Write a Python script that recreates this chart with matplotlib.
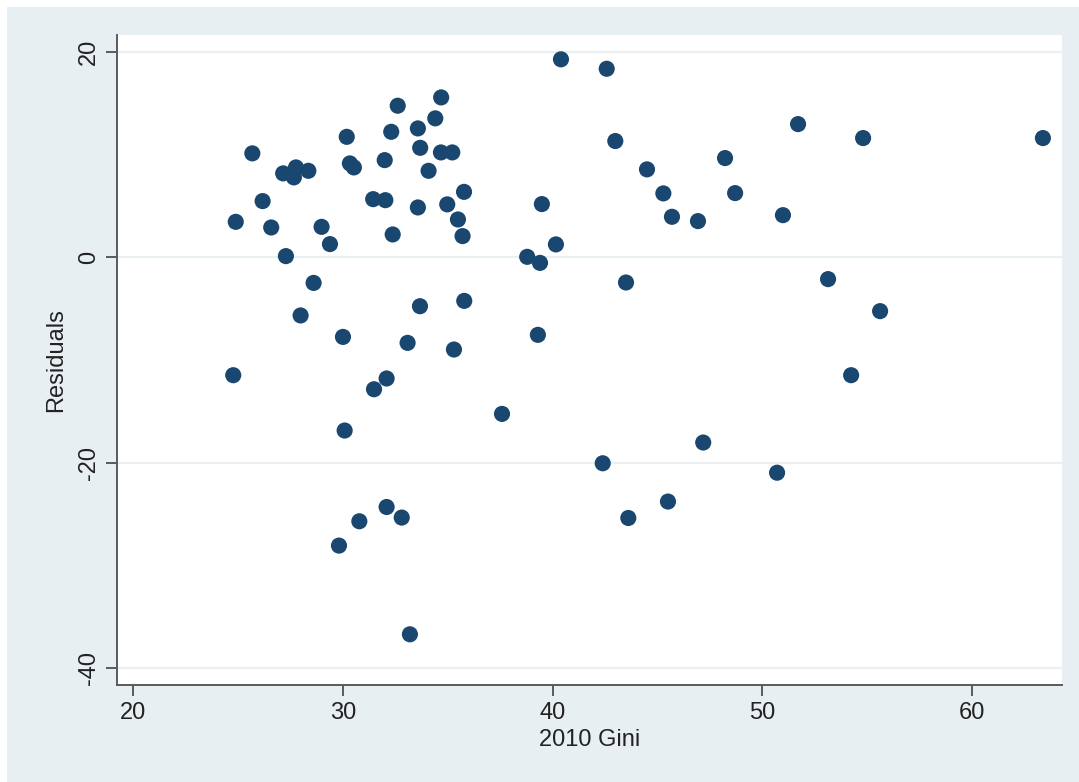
import matplotlib
matplotlib.use("Agg")
import matplotlib.pyplot as plt
from matplotlib.patches import Rectangle

# 2010 Gini coefficient and regression residual, one entry per country
gini = [25.69, 27.16, 27.77, 27.67, 28.36, 26.18, 24.90, 26.59, 28.99, 29.39,
        27.29, 30.19, 30.34, 30.53, 32.62, 34.69, 34.41, 32.31, 33.58, 33.69,
        34.68, 35.22, 32.00, 34.09, 31.45, 32.03, 35.78, 33.58, 34.98, 35.49,
        35.71, 32.38, 28.61, 27.99, 30.01, 33.68, 35.79, 33.09, 35.30, 24.78,
        32.09, 31.49, 30.09, 32.09, 32.81, 30.79, 29.82, 33.20, 40.40, 42.58,
        42.99, 44.50, 45.28, 45.69, 39.49, 40.16, 38.79, 39.40, 43.50, 39.30,
        37.59, 47.18, 42.39, 45.50, 43.61, 46.93, 48.22, 48.70, 50.70, 50.98,
        51.70, 53.13, 54.23, 54.80, 55.61, 63.37]
resid = [10.13, 8.18, 8.76, 7.79, 8.43, 5.48, 3.46, 2.91, 2.97, 1.29,
         0.12, 11.74, 9.15, 8.76, 14.77, 15.58, 13.54, 12.23, 12.56, 10.67,
         10.22, 10.22, 9.47, 8.43, 5.67, 5.57, 6.38, 4.86, 5.16, 3.69,
         2.07, 2.23, -2.49, -5.66, -7.75, -4.76, -4.24, -8.33, -8.98, -11.48,
         -11.80, -12.85, -16.87, -24.32, -25.35, -25.71, -28.08, -36.72, 19.29, 18.37,
         11.33, 8.57, 6.23, 3.95, 5.19, 1.26, 0.05, -0.54, -2.45, -7.55,
         -15.25, -18.04, -20.06, -23.79, -25.39, 3.53, 9.67, 6.26, -20.98, 4.11,
         12.98, -2.12, -11.48, 11.62, -5.24, 11.62]

xticks = [20, 30, 40, 50, 60]
yticks = [-40, -20, 0, 20]

plt.rcParams['font.family'] = ['Liberation Sans', 'DejaVu Sans']

BG = '#E8EFF2'
NAVY = '#1A476F'
W, H = 1079, 782

fig = plt.figure(figsize=(W / 100, H / 100), dpi=100, facecolor='white')
# graph region background, inset from the top and left edges
fig.patches.append(Rectangle((7 / W, 0), 1 - 7 / W, 1 - 7 / H,
                             transform=fig.transFigure, facecolor=BG,
                             edgecolor='none', zorder=-10))

ax = fig.add_axes([117 / W, 1 - 685 / H, (1062 - 117) / W, (685 - 35) / H])
ax.set_zorder(1)
ax.set_facecolor('white')

for y in yticks:
    ax.axhline(y, color='#EAF0F2', lw=1.6, zorder=1)

ax.scatter(gini, resid, s=135, color=NAVY, edgecolors='none', zorder=3)

ax.set_xlim(19.24, 64.28)
ax.set_ylim(-41.66, 21.66)
ax.set_xticks(xticks)
ax.set_yticks(yticks)
ax.set_yticklabels([str(t) for t in yticks], rotation=90, va='center')

for side in ('top', 'right'):
    ax.spines[side].set_visible(False)
for side in ('left', 'bottom'):
    ax.spines[side].set_color('#5A5A5A')
    ax.spines[side].set_linewidth(1.4)

ax.tick_params(axis='both', direction='out', length=8, width=1.4,
               color='#5A5A5A', labelsize=17, labelcolor='#222222', pad=4)

ax.set_xlabel('2010 Gini', fontsize=17, color='#222222', labelpad=4)
ax.set_ylabel('Residuals', fontsize=17, color='#222222', labelpad=8)

fig.savefig('out.png', dpi=100, facecolor=fig.get_facecolor())
